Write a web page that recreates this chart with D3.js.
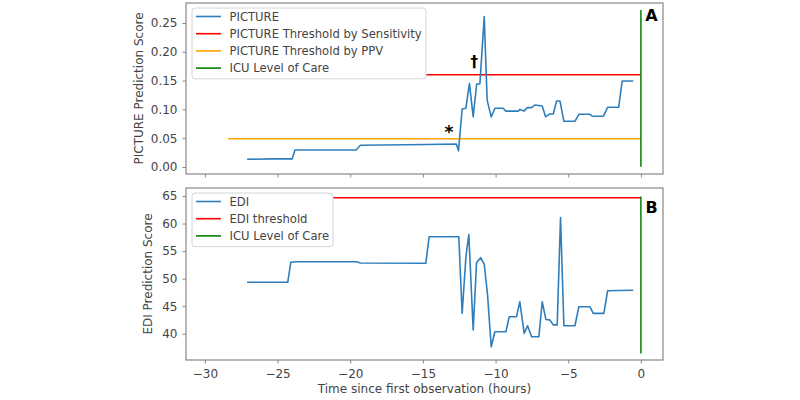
<!DOCTYPE html>
<html>
<head>
<meta charset="utf-8">
<script src="https://cdn.jsdelivr.net/npm/d3@7"></script>
<style>
  body { margin: 0; background: #fff; }
  svg { display: block; font-family: "DejaVu Sans", sans-serif; }
</style>
</head>
<body>
<div id="chart"></div>
<script>
// PICTURE score over time (hours before first observation)
const pictureTime = [-27.1, -25.4, -24.0, -23.8, -19.6, -19.3, -14.7, -12.7, -12.55, -12.3, -12.04, -11.8, -11.54,
  -11.3, -11.08, -10.78, -10.58, -10.3, -10.05, -9.48, -9.29, -8.44, -8.33, -8.05, -7.82, -7.52, -7.3, -6.79,
  -6.56, -6.26, -6.03, -5.8, -5.57, -5.3, -4.54, -4.27, -3.51, -3.33, -2.59, -2.29, -1.53, -1.29, -0.53];
const pictureScore = [0.0133, 0.014, 0.014, 0.0295, 0.0295, 0.0376, 0.039, 0.040, 0.028, 0.1007, 0.102, 0.145, 0.0873,
  0.144, 0.144, 0.261, 0.116, 0.087, 0.102, 0.102, 0.097, 0.097, 0.100, 0.097, 0.103, 0.103, 0.1076, 0.106,
  0.0873, 0.092, 0.092, 0.1146, 0.1146, 0.0793, 0.0793, 0.0915, 0.0915, 0.088, 0.088, 0.1036, 0.1036, 0.1493, 0.1493];

// EDI score over time
const ediTime = [-27.1, -24.3, -24.09, -23.7, -19.57, -19.29, -14.8, -14.57, -12.53, -12.3, -12.04, -11.84, -11.54,
  -11.31, -11.03, -10.78, -10.55, -10.3, -10.05, -9.29, -9.06, -8.56, -8.33, -8.03, -7.8, -7.52, -7.02, -6.79,
  -6.54, -6.26, -6.03, -5.76, -5.53, -5.3, -4.54, -4.27, -3.51, -3.28, -2.55, -2.29, -1.53, -0.53];
const ediScore = [49.33, 49.33, 52.96, 53.07, 53.07, 52.83, 52.78, 57.6, 57.6, 43.7, 53.97, 58.0, 40.67,
  52.9, 53.8, 52.65, 47.0, 37.64, 40.36, 40.36, 43.09, 43.09, 45.8, 40.06, 41.45, 39.46, 39.46, 45.8,
  42.6, 42.5, 41.6, 41.6, 61.1, 41.45, 41.45, 44.9, 44.9, 43.7, 43.7, 47.8, 47.85, 47.9];

// thresholds and markers
const pictureSensThreshold = 0.16;
const picturePpvThreshold = 0.049;
const ediThreshold = 64.7;
const thresholdStart = -28.4;
const icuTime = 0;
const pictureIcuRange = [0.0005, 0.2726];
const ediIcuRange = [36.4, 64.9];

const xTicks = [-30, -25, -20, -15, -10, -5, 0];
const pictureTicks = [0, 0.05, 0.10, 0.15, 0.20, 0.25];
const ediTicks = [40, 45, 50, 55, 60, 65];

const pictureLegend = [
  { label: "PICTURE", color: "#2f7ebc" },
  { label: "PICTURE Threshold by Sensitivity", color: "#ff0000" },
  { label: "PICTURE Threshold by PPV", color: "#ffa500" },
  { label: "ICU Level of Care", color: "#008000" }
];
const ediLegend = [
  { label: "EDI", color: "#2f7ebc" },
  { label: "EDI threshold", color: "#ff0000" },
  { label: "ICU Level of Care", color: "#008000" }
];

const textColor = "#444";
const spineColor = "#888";

const svg = d3.select("#chart").append("svg")
  .attr("width", 800)
  .attr("height", 400);

const x = d3.scaleLinear().domain([-31.3, 1.52]).range([186, 663]);
const yTop = d3.scaleLinear().domain([-0.0122, 0.2847]).range([174, 3]);
const yBot = d3.scaleLinear().domain([35.23, 66.45]).range([360, 188]);

function drawPanel(y, opts) {
  const g = svg.append("g");

  // threshold lines
  opts.hlines.forEach(h => {
    g.append("line")
      .attr("x1", x(thresholdStart)).attr("x2", x(icuTime))
      .attr("y1", y(h.value)).attr("y2", y(h.value))
      .attr("stroke", h.color).attr("stroke-width", 1.5);
  });

  // score line
  const pts = opts.time.map((t, i) => [t, opts.score[i]]);
  g.append("path")
    .datum(pts)
    .attr("fill", "none")
    .attr("stroke", "#2f7ebc")
    .attr("stroke-width", 1.6)
    .attr("stroke-linejoin", "round")
    .attr("d", d3.line().x(d => x(d[0])).y(d => y(d[1])));

  // ICU vertical line
  g.append("line")
    .attr("x1", x(icuTime)).attr("x2", x(icuTime))
    .attr("y1", y(opts.icu[0])).attr("y2", y(opts.icu[1]))
    .attr("stroke", "#008000").attr("stroke-width", 1.5);

  // axes
  const yAxis = g.append("g")
    .attr("transform", `translate(${x.range()[0]},0)`)
    .call(d3.axisLeft(y).tickValues(opts.yTicks).tickFormat(opts.yFormat).tickSize(3.5).tickPadding(5));
  const xAxis = g.append("g")
    .attr("transform", `translate(0,${y.range()[0]})`)
    .call(d3.axisBottom(x).tickValues(xTicks).tickSize(3.5).tickPadding(5.5)
      .tickFormat(opts.showX ? d3.format("d") : ""));
  [yAxis, xAxis].forEach(a => {
    a.select(".domain").remove();
    a.selectAll(".tick line").attr("stroke", spineColor);
    a.selectAll(".tick text").attr("fill", textColor)
      .style("font-size", "12px").style("font-family", "DejaVu Sans");
  });

  // frame
  g.append("rect")
    .attr("x", x.range()[0]).attr("y", y.range()[1])
    .attr("width", x.range()[1] - x.range()[0])
    .attr("height", y.range()[0] - y.range()[1])
    .attr("fill", "none").attr("stroke", spineColor).attr("stroke-width", 1.2);

  // y title
  g.append("text")
    .attr("transform", `translate(${opts.titleX},${(y.range()[0] + y.range()[1]) / 2}) rotate(-90)`)
    .attr("text-anchor", "middle")
    .attr("fill", textColor)
    .style("font-size", "12px")
    .text(opts.title);

  // legend
  const lg = g.append("g").attr("transform", `translate(192,${y.range()[1] + 5})`);
  const rowH = 17.2;
  lg.append("rect")
    .attr("width", opts.legendW).attr("height", opts.legend.length * rowH + 2)
    .attr("rx", 3)
    .attr("fill", "#fff").attr("stroke", "#d4d4d4");
  opts.legend.forEach((d, i) => {
    const cy = 8.5 + i * rowH;
    lg.append("line")
      .attr("x1", 4).attr("x2", 29).attr("y1", cy).attr("y2", cy)
      .attr("stroke", d.color).attr("stroke-width", 1.6);
    lg.append("text")
      .attr("x", 37.5).attr("y", cy).attr("dy", "0.35em")
      .attr("fill", textColor)
      .style("font-size", "11.6px")
      .text(d.label);
  });

  // panel letter
  g.append("text")
    .attr("x", 651.5).attr("y", y.range()[1] + opts.letterDy)
    .attr("text-anchor", "middle").attr("dy", "0.35em")
    .style("font-size", "16px").style("font-weight", "bold")
    .attr("fill", "#000")
    .text(opts.letter);

  return g;
}

const topPanel = drawPanel(yTop, {
  time: pictureTime, score: pictureScore,
  hlines: [{ value: pictureSensThreshold, color: "#ff0000" }, { value: picturePpvThreshold, color: "#ffa500" }],
  icu: pictureIcuRange,
  yTicks: pictureTicks, yFormat: d3.format(".2f"),
  showX: false,
  title: "PICTURE Prediction Score", titleX: 143,
  legend: pictureLegend, legendW: 234,
  letter: "A", letterDy: 12
});

// significance markers
topPanel.append("text")
  .attr("x", x(-13.2)).attr("y", yTop(0.065)).attr("dy", "0.5em")
  .attr("text-anchor", "middle")
  .style("font-size", "17px").style("font-weight", "bold")
  .text("*");
topPanel.append("text")
  .attr("x", x(-11.47)).attr("y", yTop(0.182)).attr("dy", "0.35em")
  .attr("text-anchor", "middle")
  .style("font-size", "15px").style("font-weight", "bold")
  .text("\u2020");

drawPanel(yBot, {
  time: ediTime, score: ediScore,
  hlines: [{ value: ediThreshold, color: "#ff0000" }],
  icu: ediIcuRange,
  yTicks: ediTicks, yFormat: d3.format("d"),
  showX: true,
  title: "EDI Prediction Score", titleX: 152,
  legend: ediLegend, legendW: 141,
  letter: "B", letterDy: 19
});

svg.append("text")
  .attr("x", (x.range()[0] + x.range()[1]) / 2).attr("y", 393)
  .attr("text-anchor", "middle")
  .attr("fill", textColor)
  .style("font-size", "12px")
  .text("Time since first observation (hours)");
</script>
</body>
</html>
